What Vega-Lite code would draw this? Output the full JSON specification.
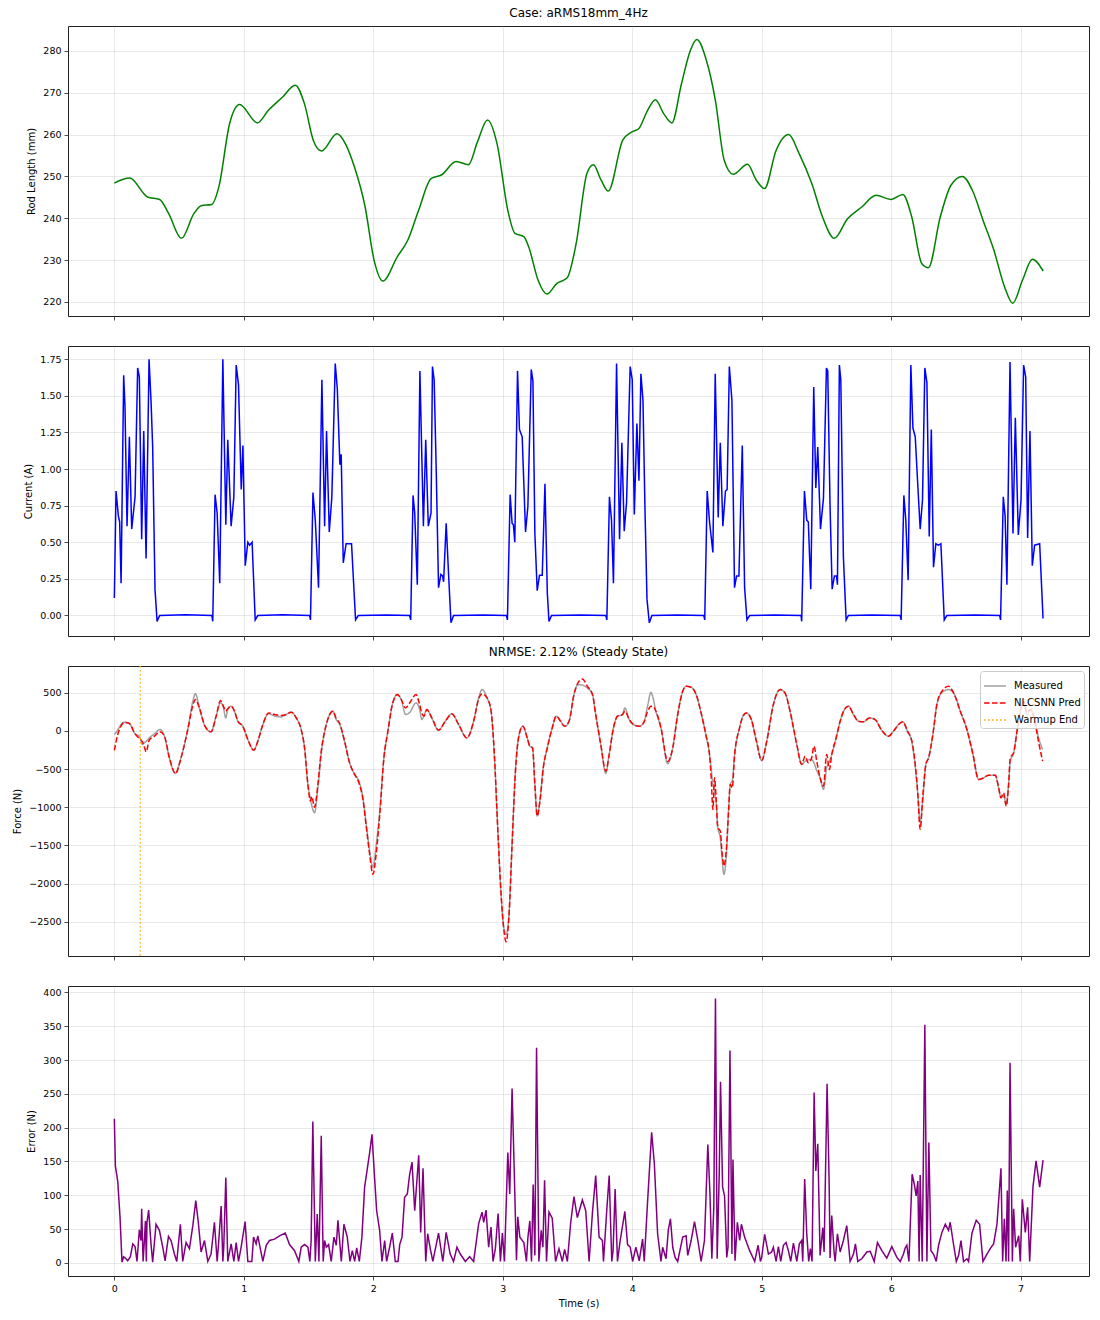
{
  "$schema": "https://vega.github.io/schema/vega-lite/v6.json",
  "padding": {"left": 12, "top": 6, "right": 1, "bottom": 5},
  "spacing": 30,
  "bounds": "flush",
  "resolve": {"legend": {"color": "independent", "strokeDash": "independent"}, "scale": {"color": "independent", "strokeDash": "independent"}},
  "config": {
    "font": "DejaVu Sans",
    "view": {"stroke": "#222222", "strokeWidth": 1},
    "axis": {
      "grid": true, "gridColor": "#b0b0b0", "gridOpacity": 0.35, "gridWidth": 0.8,
      "domain": false, "tickColor": "#222222", "tickSize": 4, "tickWidth": 0.8,
      "labelFontSize": 9.5, "labelColor": "#000000", "labelPadding": 3,
      "titleFontSize": 10, "titleFontWeight": "normal", "titleColor": "#000000", "titlePadding": 6
    },
    "title": {"fontSize": 12, "fontWeight": "normal", "color": "#000000", "offset": 6}
  },
  "datasets": {
    "rod": [
      {"t":0,"v":248.4},{"t":0.118,"v":249.6},{"t":0.256,"v":245.1},{"t":0.35,"v":244.5},{"t":0.42,"v":241.1},{"t":0.518,"v":235.2},{"t":0.614,"v":241.1},{"t":0.67,"v":243},{"t":0.752,"v":243.3},{"t":0.807,"v":247.5},{"t":0.89,"v":262.6},{"t":0.967,"v":267.2},{"t":1.105,"v":262.8},{"t":1.19,"v":265.8},{"t":1.3,"v":269},{"t":1.397,"v":271.8},{"t":1.468,"v":267.4},{"t":1.537,"v":258.6},{"t":1.6,"v":256.1},{"t":1.72,"v":260.2},{"t":1.785,"v":257.8},{"t":1.854,"v":252.3},{"t":1.937,"v":242.7},{"t":2.006,"v":230},{"t":2.074,"v":225},{"t":2.185,"v":230.8},{"t":2.267,"v":234.8},{"t":2.35,"v":241.9},{"t":2.446,"v":249.5},{"t":2.529,"v":250.4},{"t":2.639,"v":253.6},{"t":2.735,"v":252.8},{"t":2.804,"v":258.2},{"t":2.882,"v":263.5},{"t":2.956,"v":257.8},{"t":3.039,"v":241.9},{"t":3.094,"v":236.4},{"t":3.163,"v":235.6},{"t":3.2,"v":233.2},{"t":3.273,"v":225.2},{"t":3.342,"v":221.9},{"t":3.416,"v":224.4},{"t":3.498,"v":225.8},{"t":3.567,"v":234},{"t":3.65,"v":250.7},{"t":3.7,"v":252.8},{"t":3.76,"v":249.1},{"t":3.815,"v":246.5},{"t":3.926,"v":258.6},{"t":3.995,"v":260.6},{"t":4.05,"v":261.4},{"t":4.119,"v":265.8},{"t":4.179,"v":268.3},{"t":4.243,"v":265},{"t":4.306,"v":262.8},{"t":4.38,"v":272.1},{"t":4.449,"v":280.1},{"t":4.499,"v":282.7},{"t":4.573,"v":277.7},{"t":4.642,"v":268.2},{"t":4.711,"v":253.8},{"t":4.78,"v":250.5},{"t":4.89,"v":252.9},{"t":4.959,"v":249.1},{"t":5.022,"v":247.1},{"t":5.111,"v":256.2},{"t":5.208,"v":260},{"t":5.29,"v":255.4},{"t":5.387,"v":248.3},{"t":5.47,"v":240.3},{"t":5.56,"v":235.2},{"t":5.663,"v":239.9},{"t":5.773,"v":242.7},{"t":5.883,"v":245.5},{"t":5.999,"v":244.5},{"t":6.09,"v":245.7},{"t":6.159,"v":240.3},{"t":6.236,"v":229.2},{"t":6.288,"v":228.2},{"t":6.379,"v":240.3},{"t":6.462,"v":247.9},{"t":6.55,"v":250},{"t":6.627,"v":246.7},{"t":6.71,"v":239.5},{"t":6.793,"v":232.4},{"t":6.876,"v":223.6},{"t":6.939,"v":219.7},{"t":7.014,"v":225.2},{"t":7.091,"v":230.2},{"t":7.174,"v":227.4}
    ],
    "cur": [
      {"t":0,"v":0.12},{"t":0.013,"v":0.85},{"t":0.031,"v":0.68},{"t":0.041,"v":0.64},{"t":0.052,"v":0.22},{"t":0.072,"v":1.64},{"t":0.082,"v":1.43},{"t":0.098,"v":0.61},{"t":0.116,"v":1.22},{"t":0.134,"v":0.59},{"t":0.16,"v":0.81},{"t":0.18,"v":1.69},{"t":0.193,"v":1.63},{"t":0.211,"v":0.52},{"t":0.227,"v":1.26},{"t":0.245,"v":0.39},{"t":0.268,"v":1.75},{"t":0.284,"v":1.45},{"t":0.296,"v":1.15},{"t":0.314,"v":0.18},{"t":0.33,"v":-0.04},{"t":0.35,"v":0},{"t":0.55,"v":0.005},{"t":0.753,"v":0},{"t":0.76,"v":-0.04},
      {"t":0.778,"v":0.825},{"t":0.794,"v":0.7},{"t":0.814,"v":0.22},{"t":0.838,"v":1.75},{"t":0.861,"v":0.62},{"t":0.876,"v":1.2},{"t":0.902,"v":0.61},{"t":0.923,"v":0.81},{"t":0.941,"v":1.71},{"t":0.959,"v":1.575},{"t":0.98,"v":0.86},{"t":0.993,"v":1.16},{"t":1.011,"v":0.34},{"t":1.031,"v":0.5},{"t":1.045,"v":0.48},{"t":1.064,"v":0.5},{"t":1.088,"v":-0.03},{"t":1.108,"v":0},{"t":1.3,"v":0.005},{"t":1.508,"v":0},{"t":1.515,"v":-0.03},
      {"t":1.534,"v":0.84},{"t":1.552,"v":0.65},{"t":1.577,"v":0.19},{"t":1.603,"v":1.61},{"t":1.624,"v":0.61},{"t":1.639,"v":1.26},{"t":1.66,"v":0.57},{"t":1.68,"v":0.81},{"t":1.706,"v":1.72},{"t":1.722,"v":1.55},{"t":1.742,"v":1.03},{"t":1.752,"v":1.1},{"t":1.768,"v":0.36},{"t":1.79,"v":0.49},{"t":1.832,"v":0.49},{"t":1.863,"v":-0.03},{"t":1.884,"v":0},{"t":2.1,"v":0.003},{"t":2.28,"v":0},{"t":2.289,"v":-0.03},
      {"t":2.307,"v":0.82},{"t":2.32,"v":0.7},{"t":2.34,"v":0.21},{"t":2.36,"v":1.67},{"t":2.387,"v":0.61},{"t":2.405,"v":1.2},{"t":2.425,"v":0.61},{"t":2.446,"v":0.7},{"t":2.457,"v":1.7},{"t":2.47,"v":1.61},{"t":2.486,"v":1},{"t":2.504,"v":0.19},{"t":2.522,"v":0.28},{"t":2.535,"v":0.27},{"t":2.543,"v":0.23},{"t":2.563,"v":0.63},{"t":2.581,"v":0.29},{"t":2.6,"v":-0.05},{"t":2.62,"v":0},{"t":2.85,"v":0.003},{"t":3.028,"v":0},{"t":3.036,"v":-0.03},
      {"t":3.057,"v":0.825},{"t":3.072,"v":0.63},{"t":3.082,"v":0.62},{"t":3.093,"v":0.5},{"t":3.114,"v":1.67},{"t":3.129,"v":1.27},{"t":3.15,"v":1.22},{"t":3.176,"v":0.57},{"t":3.194,"v":0.745},{"t":3.22,"v":1.68},{"t":3.233,"v":1.6},{"t":3.248,"v":0.56},{"t":3.266,"v":0.17},{"t":3.284,"v":0.275},{"t":3.305,"v":0.275},{"t":3.326,"v":0.9},{"t":3.344,"v":0.155},{"t":3.357,"v":-0.04},{"t":3.377,"v":0},{"t":3.6,"v":0.003},{"t":3.796,"v":0},{"t":3.804,"v":-0.03},
      {"t":3.824,"v":0.81},{"t":3.84,"v":0.65},{"t":3.855,"v":0.22},{"t":3.879,"v":1.72},{"t":3.902,"v":0.52},{"t":3.92,"v":1.18},{"t":3.938,"v":0.575},{"t":3.956,"v":0.77},{"t":3.984,"v":1.7},{"t":4,"v":1.61},{"t":4.016,"v":0.69},{"t":4.036,"v":1.31},{"t":4.052,"v":0.92},{"t":4.067,"v":1.65},{"t":4.083,"v":1.47},{"t":4.098,"v":0.745},{"t":4.114,"v":0.11},{"t":4.132,"v":-0.05},{"t":4.152,"v":0},{"t":4.35,"v":0.003},{"t":4.553,"v":0},{"t":4.56,"v":-0.03},
      {"t":4.579,"v":0.85},{"t":4.597,"v":0.64},{"t":4.623,"v":0.43},{"t":4.641,"v":1.65},{"t":4.664,"v":0.67},{"t":4.68,"v":1.18},{"t":4.7,"v":0.61},{"t":4.72,"v":0.85},{"t":4.733,"v":0.86},{"t":4.75,"v":1.7},{"t":4.77,"v":1.47},{"t":4.79,"v":0.19},{"t":4.806,"v":0.27},{"t":4.824,"v":0.27},{"t":4.85,"v":1.16},{"t":4.868,"v":0.19},{"t":4.886,"v":-0.03},{"t":4.907,"v":0},{"t":5.1,"v":0.003},{"t":5.304,"v":0},{"t":5.309,"v":-0.04},
      {"t":5.33,"v":0.85},{"t":5.348,"v":0.65},{"t":5.36,"v":0.64},{"t":5.379,"v":0.18},{"t":5.402,"v":1.56},{"t":5.418,"v":0.87},{"t":5.433,"v":1.15},{"t":5.454,"v":0.59},{"t":5.477,"v":0.8},{"t":5.5,"v":1.69},{"t":5.51,"v":1.67},{"t":5.528,"v":0.745},{"t":5.544,"v":0.18},{"t":5.562,"v":0.27},{"t":5.578,"v":0.27},{"t":5.585,"v":0.21},{"t":5.6,"v":1.71},{"t":5.611,"v":1.61},{"t":5.631,"v":0.4},{"t":5.652,"v":-0.03},{"t":5.67,"v":0},{"t":5.85,"v":0.003},{"t":6.07,"v":0},{"t":6.077,"v":-0.03},
      {"t":6.098,"v":0.82},{"t":6.113,"v":0.65},{"t":6.131,"v":0.24},{"t":6.152,"v":1.71},{"t":6.168,"v":1.28},{"t":6.186,"v":1.22},{"t":6.205,"v":0.9},{"t":6.224,"v":0.59},{"t":6.242,"v":0.79},{"t":6.26,"v":1.69},{"t":6.276,"v":1.59},{"t":6.294,"v":0.54},{"t":6.31,"v":1.27},{"t":6.327,"v":0.33},{"t":6.345,"v":0.49},{"t":6.365,"v":0.48},{"t":6.384,"v":0.49},{"t":6.41,"v":-0.03},{"t":6.43,"v":0},{"t":6.65,"v":0.003},{"t":6.838,"v":0},{"t":6.845,"v":-0.03},
      {"t":6.866,"v":0.81},{"t":6.88,"v":0.68},{"t":6.894,"v":0.21},{"t":6.918,"v":1.73},{"t":6.941,"v":0.56},{"t":6.959,"v":1.35},{"t":6.982,"v":0.55},{"t":7.003,"v":0.79},{"t":7.023,"v":1.71},{"t":7.039,"v":1.63},{"t":7.054,"v":0.53},{"t":7.072,"v":1.26},{"t":7.09,"v":0.34},{"t":7.108,"v":0.48},{"t":7.147,"v":0.49},{"t":7.173,"v":-0.02}
    ],
    "frc": [
      {"t":0,"m":-48,"p":-257},{"t":0.026,"m":10,"p":-48},{"t":0.05,"m":80,"p":60},{"t":0.077,"m":113,"p":110},{"t":0.116,"m":96,"p":96},{"t":0.16,"m":-39,"p":-39},{"t":0.193,"m":-70,"p":-100},{"t":0.219,"m":-179,"p":-150},{"t":0.235,"m":-150,"p":-230},{"t":0.245,"m":-140,"p":-275},{"t":0.27,"m":-92,"p":-120},{"t":0.31,"m":-40,"p":-70},{"t":0.353,"m":17,"p":-10},{"t":0.387,"m":-70,"p":-70},{"t":0.425,"m":-353,"p":-353},{"t":0.472,"m":-558,"p":-558},{"t":0.515,"m":-353,"p":-353},{"t":0.567,"m":17,"p":17},{"t":0.606,"m":388,"p":330},{"t":0.626,"m":488,"p":410},{"t":0.657,"m":301,"p":301},{"t":0.7,"m":61,"p":61},{"t":0.747,"m":-13,"p":-13},{"t":0.786,"m":192,"p":192},{"t":0.82,"m":370,"p":397},{"t":0.843,"m":300,"p":320},{"t":0.86,"m":170,"p":260},{"t":0.876,"m":279,"p":290},{"t":0.902,"m":323,"p":323},{"t":0.928,"m":257,"p":257},{"t":0.954,"m":126,"p":126},{"t":0.992,"m":61,"p":61},{"t":1.031,"m":-113,"p":-113},{"t":1.077,"m":-253,"p":-253},{"t":1.108,"m":-135,"p":-135},{"t":1.147,"m":83,"p":83},{"t":1.191,"m":225,"p":235},{"t":1.237,"m":195,"p":215},{"t":1.289,"m":183,"p":200},{"t":1.327,"m":214,"p":214},{"t":1.366,"m":244,"p":244},{"t":1.405,"m":170,"p":170},{"t":1.443,"m":17,"p":17},{"t":1.469,"m":-222,"p":-222},{"t":1.495,"m":-702,"p":-702},{"t":1.515,"m":-898,"p":-920},{"t":1.525,"m":-980,"p":-860},{"t":1.546,"m":-1073,"p":-1000},{"t":1.572,"m":-750,"p":-702},{"t":1.598,"m":-300,"p":-266},{"t":1.637,"m":83,"p":83},{"t":1.688,"m":257,"p":257},{"t":1.714,"m":148,"p":160},{"t":1.74,"m":83,"p":100},{"t":1.778,"m":-135,"p":-135},{"t":1.817,"m":-419,"p":-419},{"t":1.856,"m":-571,"p":-571},{"t":1.889,"m":-658,"p":-680},{"t":1.92,"m":-876,"p":-900},{"t":1.946,"m":-1225,"p":-1260},{"t":1.972,"m":-1574,"p":-1620},{"t":1.997,"m":-1783,"p":-1879},{"t":2.023,"m":-1487,"p":-1600},{"t":2.05,"m":-1051,"p":-1100},{"t":2.082,"m":-353,"p":-353},{"t":2.113,"m":-4,"p":-4},{"t":2.147,"m":344,"p":344},{"t":2.186,"m":475,"p":475},{"t":2.216,"m":410,"p":410},{"t":2.25,"m":215,"p":300},{"t":2.281,"m":240,"p":366},{"t":2.33,"m":366,"p":475},{"t":2.358,"m":280,"p":344},{"t":2.375,"m":148,"p":230},{"t":2.392,"m":200,"p":195},{"t":2.413,"m":279,"p":279},{"t":2.452,"m":170,"p":170},{"t":2.504,"m":9,"p":9},{"t":2.556,"m":126,"p":126},{"t":2.607,"m":222,"p":222},{"t":2.659,"m":83,"p":83},{"t":2.723,"m":-92,"p":-92},{"t":2.775,"m":126,"p":126},{"t":2.814,"m":432,"p":420},{"t":2.84,"m":541,"p":484},{"t":2.879,"m":432,"p":432},{"t":2.91,"m":257,"p":257},{"t":2.935,"m":-310,"p":-310},{"t":2.961,"m":-1269,"p":-1269},{"t":2.987,"m":-2141,"p":-2141},{"t":3.008,"m":-2577,"p":-2600},{"t":3.026,"m":-2664,"p":-2764},{"t":3.047,"m":-2446,"p":-2446},{"t":3.072,"m":-1487,"p":-1487},{"t":3.098,"m":-528,"p":-528},{"t":3.124,"m":-70,"p":-70},{"t":3.155,"m":61,"p":61},{"t":3.189,"m":-92,"p":-92},{"t":3.209,"m":-201,"p":-201},{"t":3.23,"m":-222,"p":-222},{"t":3.248,"m":-702,"p":-702},{"t":3.266,"m":-1116,"p":-1116},{"t":3.287,"m":-920,"p":-920},{"t":3.313,"m":-484,"p":-484},{"t":3.344,"m":-222,"p":-222},{"t":3.382,"m":39,"p":39},{"t":3.413,"m":192,"p":192},{"t":3.447,"m":126,"p":126},{"t":3.478,"m":61,"p":61},{"t":3.512,"m":126,"p":126},{"t":3.55,"m":475,"p":475},{"t":3.581,"m":606,"p":630},{"t":3.615,"m":600,"p":680},{"t":3.654,"m":560,"p":584},{"t":3.693,"m":475,"p":475},{"t":3.718,"m":214,"p":214},{"t":3.757,"m":-179,"p":-179},{"t":3.796,"m":-558,"p":-528},{"t":3.822,"m":-310,"p":-310},{"t":3.855,"m":39,"p":39},{"t":3.886,"m":192,"p":192},{"t":3.925,"m":214,"p":214},{"t":3.943,"m":301,"p":257},{"t":3.977,"m":148,"p":148},{"t":4.01,"m":83,"p":83},{"t":4.054,"m":61,"p":61},{"t":4.088,"m":105,"p":105},{"t":4.119,"m":330,"p":257},{"t":4.145,"m":506,"p":323},{"t":4.158,"m":450,"p":323},{"t":4.183,"m":257,"p":257},{"t":4.222,"m":39,"p":39},{"t":4.274,"m":-430,"p":-400},{"t":4.313,"m":-222,"p":-222},{"t":4.351,"m":214,"p":214},{"t":4.39,"m":519,"p":519},{"t":4.416,"m":584,"p":584},{"t":4.455,"m":571,"p":571},{"t":4.494,"m":475,"p":475},{"t":4.532,"m":235,"p":235},{"t":4.571,"m":-70,"p":-70},{"t":4.597,"m":-310,"p":-310},{"t":4.61,"m":-500,"p":-615},{"t":4.623,"m":-700,"p":-1029},{"t":4.636,"m":-800,"p":-615},{"t":4.649,"m":-950,"p":-920},{"t":4.661,"m":-1269,"p":-1269},{"t":4.68,"m":-1400,"p":-1312},{"t":4.693,"m":-1650,"p":-1574},{"t":4.708,"m":-1879,"p":-1770},{"t":4.726,"m":-1650,"p":-1574},{"t":4.744,"m":-1051,"p":-1051},{"t":4.757,"m":-702,"p":-702},{"t":4.773,"m":-650,"p":-746},{"t":4.791,"m":-310,"p":-310},{"t":4.829,"m":39,"p":39},{"t":4.855,"m":192,"p":192},{"t":4.881,"m":235,"p":235},{"t":4.92,"m":148,"p":148},{"t":4.959,"m":-135,"p":-135},{"t":5,"m":-388,"p":-388},{"t":5.039,"m":-135,"p":-135},{"t":5.09,"m":344,"p":344},{"t":5.142,"m":541,"p":541},{"t":5.18,"m":497,"p":497},{"t":5.219,"m":257,"p":257},{"t":5.271,"m":-179,"p":-179},{"t":5.309,"m":-440,"p":-440},{"t":5.335,"m":-400,"p":-331},{"t":5.36,"m":-380,"p":-419},{"t":5.385,"m":-375,"p":-360},{"t":5.404,"m":-420,"p":-201},{"t":5.425,"m":-520,"p":-397},{"t":5.451,"m":-615,"p":-615},{"t":5.477,"m":-767,"p":-724},{"t":5.502,"m":-480,"p":-310},{"t":5.523,"m":-400,"p":-506},{"t":5.541,"m":-310,"p":-310},{"t":5.575,"m":-92,"p":-92},{"t":5.606,"m":126,"p":126},{"t":5.639,"m":279,"p":279},{"t":5.67,"m":323,"p":323},{"t":5.709,"m":214,"p":214},{"t":5.747,"m":126,"p":126},{"t":5.786,"m":118,"p":118},{"t":5.832,"m":170,"p":170},{"t":5.876,"m":148,"p":148},{"t":5.928,"m":4,"p":4},{"t":5.979,"m":-70,"p":-70},{"t":6.018,"m":-4,"p":-4},{"t":6.057,"m":83,"p":83},{"t":6.09,"m":118,"p":118},{"t":6.126,"m":-4,"p":-4},{"t":6.16,"m":-150,"p":-135},{"t":6.186,"m":-470,"p":-440},{"t":6.206,"m":-833,"p":-833},{"t":6.224,"m":-1203,"p":-1290},{"t":6.245,"m":-900,"p":-833},{"t":6.268,"m":-440,"p":-440},{"t":6.289,"m":-353,"p":-353},{"t":6.322,"m":-48,"p":-48},{"t":6.353,"m":344,"p":344},{"t":6.392,"m":500,"p":519},{"t":6.443,"m":541,"p":584},{"t":6.482,"m":497,"p":497},{"t":6.534,"m":257,"p":257},{"t":6.585,"m":17,"p":17},{"t":6.632,"m":-310,"p":-310},{"t":6.675,"m":-637,"p":-637},{"t":6.714,"m":-615,"p":-615},{"t":6.753,"m":-580,"p":-580},{"t":6.804,"m":-580,"p":-580},{"t":6.83,"m":-746,"p":-746},{"t":6.848,"m":-876,"p":-876},{"t":6.868,"m":-850,"p":-811},{"t":6.889,"m":-960,"p":-985},{"t":6.907,"m":-702,"p":-702},{"t":6.92,"m":-400,"p":-353},{"t":6.946,"m":-288,"p":-288},{"t":6.972,"m":-4,"p":-4},{"t":6.997,"m":257,"p":257},{"t":7.023,"m":388,"p":388},{"t":7.049,"m":200,"p":235},{"t":7.075,"m":279,"p":279},{"t":7.106,"m":170,"p":150},{"t":7.139,"m":-92,"p":-150},{"t":7.17,"m":-244,"p":-397}
    ],
    "err": [
      {"t":0,"v":213},{"t":0.008,"v":143},{"t":0.026,"v":121},{"t":0.044,"v":67},{"t":0.059,"v":1},{"t":0.072,"v":9},{"t":0.09,"v":6},{"t":0.103,"v":3},{"t":0.124,"v":9},{"t":0.142,"v":28},{"t":0.16,"v":24},{"t":0.175,"v":2},{"t":0.193,"v":49},{"t":0.206,"v":33},{"t":0.211,"v":80},{"t":0.222,"v":2},{"t":0.232,"v":33},{"t":0.24,"v":62},{"t":0.247,"v":2},{"t":0.252,"v":60},{"t":0.265,"v":78},{"t":0.283,"v":28},{"t":0.296,"v":1},{"t":0.322,"v":57},{"t":0.348,"v":48},{"t":0.374,"v":23},{"t":0.392,"v":3},{"t":0.418,"v":39},{"t":0.438,"v":33},{"t":0.464,"v":13},{"t":0.482,"v":2},{"t":0.495,"v":28},{"t":0.51,"v":57},{"t":0.528,"v":2},{"t":0.554,"v":30},{"t":0.58,"v":21},{"t":0.606,"v":55},{"t":0.629,"v":92},{"t":0.65,"v":57},{"t":0.67,"v":16},{"t":0.696,"v":33},{"t":0.722,"v":2},{"t":0.747,"v":13},{"t":0.773,"v":60},{"t":0.794,"v":2},{"t":0.804,"v":26},{"t":0.825,"v":84},{"t":0.838,"v":2},{"t":0.845,"v":23},{"t":0.861,"v":126},{"t":0.876,"v":2},{"t":0.902,"v":28},{"t":0.923,"v":2},{"t":0.941,"v":30},{"t":0.959,"v":2},{"t":0.979,"v":23},{"t":1.01,"v":61},{"t":1.031,"v":2},{"t":1.062,"v":2},{"t":1.075,"v":38},{"t":1.095,"v":28},{"t":1.108,"v":40},{"t":1.147,"v":2},{"t":1.173,"v":26},{"t":1.198,"v":33},{"t":1.237,"v":35},{"t":1.276,"v":40},{"t":1.32,"v":44},{"t":1.353,"v":27},{"t":1.392,"v":18},{"t":1.425,"v":2},{"t":1.443,"v":23},{"t":1.469,"v":27},{"t":1.495,"v":23},{"t":1.51,"v":2},{"t":1.52,"v":33},{"t":1.533,"v":209},{"t":1.552,"v":2},{"t":1.567,"v":72},{"t":1.58,"v":2},{"t":1.598,"v":188},{"t":1.613,"v":2},{"t":1.624,"v":33},{"t":1.637,"v":23},{"t":1.655,"v":27},{"t":1.675,"v":2},{"t":1.696,"v":38},{"t":1.714,"v":26},{"t":1.727,"v":63},{"t":1.753,"v":2},{"t":1.773,"v":57},{"t":1.799,"v":38},{"t":1.82,"v":2},{"t":1.838,"v":18},{"t":1.856,"v":2},{"t":1.872,"v":22},{"t":1.892,"v":2},{"t":1.912,"v":38},{"t":1.933,"v":112},{"t":1.972,"v":163},{"t":1.99,"v":190},{"t":2.01,"v":126},{"t":2.026,"v":77},{"t":2.049,"v":48},{"t":2.067,"v":2},{"t":2.088,"v":33},{"t":2.103,"v":2},{"t":2.126,"v":23},{"t":2.147,"v":44},{"t":2.17,"v":2},{"t":2.191,"v":2},{"t":2.204,"v":27},{"t":2.222,"v":38},{"t":2.242,"v":97},{"t":2.263,"v":102},{"t":2.281,"v":131},{"t":2.299,"v":149},{"t":2.32,"v":77},{"t":2.351,"v":159},{"t":2.366,"v":45},{"t":2.384,"v":140},{"t":2.405,"v":2},{"t":2.42,"v":43},{"t":2.44,"v":21},{"t":2.46,"v":2},{"t":2.504,"v":44},{"t":2.537,"v":2},{"t":2.563,"v":45},{"t":2.594,"v":13},{"t":2.62,"v":2},{"t":2.646,"v":23},{"t":2.672,"v":13},{"t":2.711,"v":2},{"t":2.744,"v":9},{"t":2.775,"v":2},{"t":2.814,"v":58},{"t":2.84,"v":75},{"t":2.853,"v":60},{"t":2.871,"v":78},{"t":2.891,"v":23},{"t":2.909,"v":53},{"t":2.925,"v":2},{"t":2.943,"v":21},{"t":2.964,"v":73},{"t":2.982,"v":2},{"t":2.997,"v":44},{"t":3.013,"v":2},{"t":3.039,"v":163},{"t":3.054,"v":102},{"t":3.072,"v":258},{"t":3.09,"v":126},{"t":3.106,"v":4},{"t":3.116,"v":68},{"t":3.132,"v":38},{"t":3.163,"v":30},{"t":3.183,"v":2},{"t":3.194,"v":37},{"t":3.209,"v":62},{"t":3.222,"v":2},{"t":3.235,"v":116},{"t":3.248,"v":11},{"t":3.261,"v":318},{"t":3.279,"v":2},{"t":3.297,"v":48},{"t":3.31,"v":23},{"t":3.323,"v":122},{"t":3.338,"v":2},{"t":3.357,"v":75},{"t":3.382,"v":66},{"t":3.408,"v":2},{"t":3.434,"v":21},{"t":3.46,"v":2},{"t":3.478,"v":20},{"t":3.499,"v":2},{"t":3.525,"v":60},{"t":3.55,"v":98},{"t":3.576,"v":67},{"t":3.615,"v":93},{"t":3.641,"v":77},{"t":3.667,"v":2},{"t":3.693,"v":75},{"t":3.718,"v":129},{"t":3.744,"v":38},{"t":3.77,"v":33},{"t":3.778,"v":2},{"t":3.804,"v":80},{"t":3.822,"v":129},{"t":3.842,"v":2},{"t":3.852,"v":18},{"t":3.868,"v":109},{"t":3.886,"v":2},{"t":3.907,"v":33},{"t":3.943,"v":76},{"t":3.964,"v":27},{"t":3.985,"v":23},{"t":4.003,"v":2},{"t":4.028,"v":23},{"t":4.054,"v":3},{"t":4.08,"v":35},{"t":4.093,"v":2},{"t":4.119,"v":92},{"t":4.15,"v":193},{"t":4.171,"v":146},{"t":4.196,"v":43},{"t":4.222,"v":2},{"t":4.235,"v":23},{"t":4.261,"v":6},{"t":4.279,"v":49},{"t":4.295,"v":65},{"t":4.313,"v":23},{"t":4.331,"v":8},{"t":4.351,"v":2},{"t":4.39,"v":38},{"t":4.416,"v":40},{"t":4.429,"v":11},{"t":4.455,"v":33},{"t":4.481,"v":61},{"t":4.507,"v":33},{"t":4.532,"v":2},{"t":4.558,"v":33},{"t":4.584,"v":175},{"t":4.6,"v":104},{"t":4.615,"v":6},{"t":4.63,"v":82},{"t":4.643,"v":391},{"t":4.656,"v":6},{"t":4.672,"v":131},{"t":4.682,"v":268},{"t":4.698,"v":112},{"t":4.713,"v":99},{"t":4.73,"v":8},{"t":4.74,"v":23},{"t":4.755,"v":314},{"t":4.77,"v":13},{"t":4.778,"v":153},{"t":4.794,"v":3},{"t":4.812,"v":60},{"t":4.83,"v":33},{"t":4.843,"v":57},{"t":4.868,"v":38},{"t":4.907,"v":18},{"t":4.946,"v":2},{"t":4.972,"v":26},{"t":4.99,"v":2},{"t":5,"v":8},{"t":5.023,"v":42},{"t":5.052,"v":13},{"t":5.077,"v":16},{"t":5.09,"v":23},{"t":5.111,"v":2},{"t":5.129,"v":24},{"t":5.147,"v":2},{"t":5.168,"v":26},{"t":5.188,"v":30},{"t":5.206,"v":18},{"t":5.224,"v":2},{"t":5.245,"v":29},{"t":5.271,"v":2},{"t":5.291,"v":28},{"t":5.309,"v":33},{"t":5.317,"v":2},{"t":5.332,"v":124},{"t":5.348,"v":43},{"t":5.363,"v":2},{"t":5.376,"v":21},{"t":5.389,"v":2},{"t":5.405,"v":252},{"t":5.418,"v":136},{"t":5.433,"v":176},{"t":5.451,"v":11},{"t":5.472,"v":52},{"t":5.482,"v":16},{"t":5.505,"v":265},{"t":5.521,"v":119},{"t":5.528,"v":7},{"t":5.541,"v":70},{"t":5.559,"v":16},{"t":5.567,"v":2},{"t":5.585,"v":43},{"t":5.606,"v":16},{"t":5.631,"v":33},{"t":5.657,"v":55},{"t":5.683,"v":2},{"t":5.709,"v":13},{"t":5.724,"v":28},{"t":5.742,"v":2},{"t":5.773,"v":6},{"t":5.812,"v":16},{"t":5.838,"v":17},{"t":5.869,"v":2},{"t":5.894,"v":30},{"t":5.928,"v":18},{"t":5.966,"v":7},{"t":6.005,"v":24},{"t":6.044,"v":8},{"t":6.07,"v":2},{"t":6.095,"v":13},{"t":6.108,"v":22},{"t":6.121,"v":26},{"t":6.137,"v":2},{"t":6.162,"v":131},{"t":6.178,"v":117},{"t":6.193,"v":99},{"t":6.206,"v":121},{"t":6.216,"v":2},{"t":6.224,"v":130},{"t":6.24,"v":2},{"t":6.26,"v":352},{"t":6.276,"v":2},{"t":6.291,"v":178},{"t":6.307,"v":18},{"t":6.327,"v":13},{"t":6.348,"v":2},{"t":6.366,"v":26},{"t":6.392,"v":45},{"t":6.418,"v":57},{"t":6.443,"v":48},{"t":6.456,"v":60},{"t":6.477,"v":33},{"t":6.503,"v":2},{"t":6.521,"v":11},{"t":6.539,"v":33},{"t":6.559,"v":2},{"t":6.585,"v":6},{"t":6.598,"v":2},{"t":6.624,"v":44},{"t":6.657,"v":63},{"t":6.683,"v":57},{"t":6.709,"v":2},{"t":6.74,"v":13},{"t":6.765,"v":21},{"t":6.791,"v":28},{"t":6.817,"v":57},{"t":6.848,"v":140},{"t":6.861,"v":2},{"t":6.874,"v":65},{"t":6.887,"v":2},{"t":6.897,"v":107},{"t":6.907,"v":2},{"t":6.918,"v":296},{"t":6.936,"v":2},{"t":6.946,"v":80},{"t":6.961,"v":23},{"t":6.985,"v":40},{"t":6.997,"v":2},{"t":7.013,"v":94},{"t":7.036,"v":45},{"t":7.054,"v":82},{"t":7.07,"v":2},{"t":7.095,"v":112},{"t":7.119,"v":151},{"t":7.147,"v":112},{"t":7.173,"v":152}
    ],
    "warm": [{"t":0.2}]
  },
  "vconcat": [
    {
      "width": 1021, "height": 290,
      "title": "Case: aRMS18mm_4Hz",
      "data": {"name": "rod"},
      "mark": {"type": "line", "color": "#008000", "strokeWidth": 1.5, "interpolate": "monotone"},
      "encoding": {
        "x": {"field": "t", "type": "quantitative", "scale": {"domain": [-0.358, 7.528], "nice": false, "zero": false}, "axis": {"values": [0,1,2,3,4,5,6,7], "labels": false, "title": null}},
        "y": {"field": "v", "type": "quantitative", "scale": {"domain": [216.65, 285.95], "nice": false, "zero": false}, "axis": {"values": [220,230,240,250,260,270,280], "title": "Rod Length (mm)"}}
      }
    },
    {
      "width": 1021, "height": 290,
      "data": {"name": "cur"},
      "mark": {"type": "line", "color": "#0000ff", "strokeWidth": 1.5},
      "encoding": {
        "x": {"field": "t", "type": "quantitative", "scale": {"domain": [-0.358, 7.528], "nice": false, "zero": false}, "axis": {"values": [0,1,2,3,4,5,6,7], "labels": false, "title": null}},
        "y": {"field": "v", "type": "quantitative", "scale": {"domain": [-0.14, 1.84], "nice": false, "zero": false}, "axis": {"values": [0,0.25,0.5,0.75,1,1.25,1.5,1.75], "format": ".2f", "title": "Current (A)"}}
      }
    },
    {
      "width": 1021, "height": 290,
      "title": "NRMSE: 2.12% (Steady State)",
      "layer": [
        {
          "data": {"name": "frc"},
          "mark": {"type": "line", "strokeWidth": 1.5, "interpolate": "monotone"},
          "encoding": {
            "x": {"field": "t", "type": "quantitative", "scale": {"domain": [-0.358, 7.528], "nice": false, "zero": false}, "axis": {"values": [0,1,2,3,4,5,6,7], "labels": false, "title": null}},
            "y": {"field": "m", "type": "quantitative", "scale": {"domain": [-2950, 850], "nice": false, "zero": false}, "axis": {"values": [-2500,-2000,-1500,-1000,-500,0,500], "format": "d", "title": "Force (N)"}},
            "color": {"datum": "Measured", "type": "nominal", "scale": {"domain": ["Measured", "NLCSNN Pred", "Warmup End"], "range": ["#a0a0a0", "#ff0000", "#ffa500"]}, "legend": {"title": null, "orient": "top-right", "offset": 5, "symbolType": "stroke", "symbolSize": 480, "symbolStrokeWidth": 1.5, "labelFontSize": 10, "labelColor": "#000000", "fillColor": "rgba(255,255,255,0.8)", "strokeColor": "#cccccc", "cornerRadius": 3, "padding": 3, "rowPadding": -8, "labelOffset": 7}},
            "strokeDash": {"datum": "Measured", "type": "nominal", "scale": {"domain": ["Measured", "NLCSNN Pred", "Warmup End"], "range": [[1, 0], [5.5, 2.4], [1.5, 2.5]]}, "legend": {"title": null, "orient": "top-right", "offset": 5, "symbolType": "stroke", "symbolSize": 480, "symbolStrokeWidth": 1.5, "labelFontSize": 10, "labelColor": "#000000", "fillColor": "rgba(255,255,255,0.8)", "strokeColor": "#cccccc", "cornerRadius": 3, "padding": 3, "rowPadding": -8, "labelOffset": 7}}
          }
        },
        {
          "data": {"name": "frc"},
          "mark": {"type": "line", "strokeWidth": 1.5, "interpolate": "monotone"},
          "encoding": {
            "x": {"field": "t", "type": "quantitative"},
            "y": {"field": "p", "type": "quantitative", "axis": {"title": "Force (N)", "format": "d"}},
            "color": {"datum": "NLCSNN Pred", "type": "nominal"},
            "strokeDash": {"datum": "NLCSNN Pred", "type": "nominal"}
          }
        },
        {
          "data": {"name": "warm"},
          "mark": {"type": "rule", "strokeWidth": 1.2},
          "encoding": {
            "x": {"field": "t", "type": "quantitative"},
            "color": {"datum": "Warmup End", "type": "nominal"},
            "strokeDash": {"datum": "Warmup End", "type": "nominal"}
          }
        }
      ]
    },
    {
      "width": 1021, "height": 290,
      "data": {"name": "err"},
      "mark": {"type": "line", "color": "#800080", "strokeWidth": 1.5},
      "encoding": {
        "x": {"field": "t", "type": "quantitative", "scale": {"domain": [-0.358, 7.528], "nice": false, "zero": false}, "axis": {"values": [0,1,2,3,4,5,6,7], "format": "d", "title": "Time (s)"}},
        "y": {"field": "v", "type": "quantitative", "scale": {"domain": [-19.5, 409.5], "nice": false, "zero": false}, "axis": {"values": [0,50,100,150,200,250,300,350,400], "title": "Error (N)"}}
      }
    }
  ]
}
